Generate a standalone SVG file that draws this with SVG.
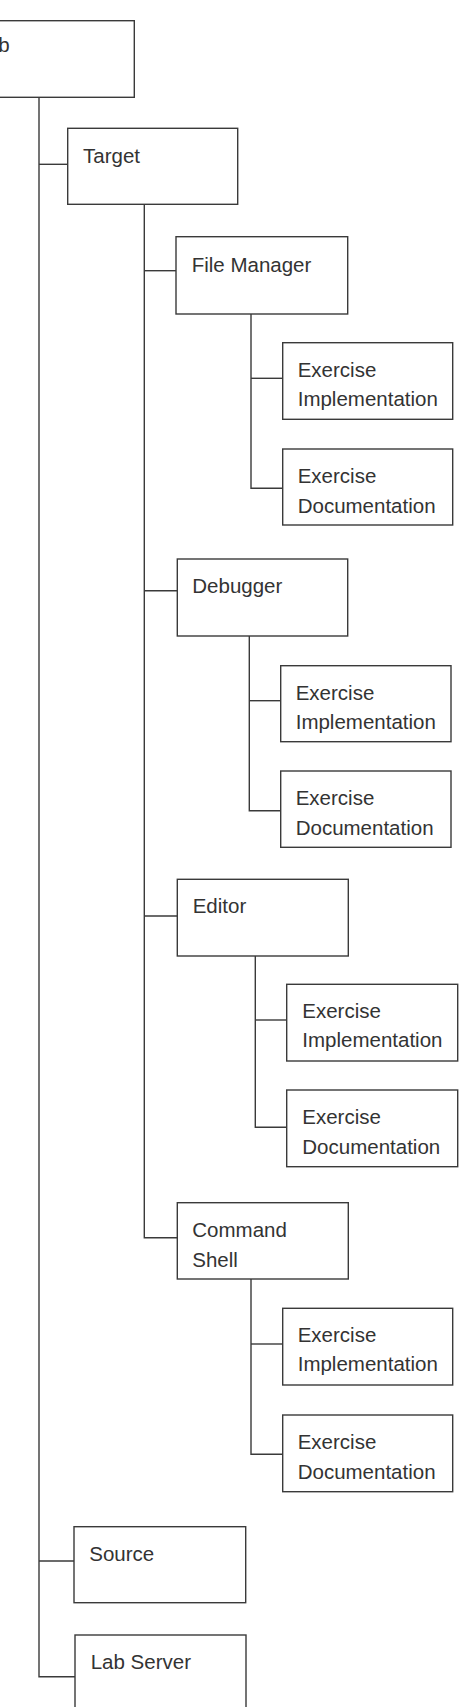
<svg xmlns="http://www.w3.org/2000/svg" width="465" height="1707" viewBox="0 0 465 1707">
<style>
.box{fill:#fff;stroke:#3a3a3a;stroke-width:1.4}
.t{font-family:"Liberation Sans",Arial,sans-serif;font-size:20.5px;fill:#333}
.c{fill:none;stroke:#3a3a3a;stroke-width:1.4}
</style>
<rect width="465" height="1707" fill="#fff"/>
<g id="connectors">
<path class="c" d="M39 97.3V1676.7H75"/>
<path class="c" d="M39 164.3H67.7"/>
<path class="c" d="M39 1561H74"/>
<path class="c" d="M144.3 204.3V1237.7H177.3"/>
<path class="c" d="M144.3 270.7H176"/>
<path class="c" d="M144.3 590.7H177.3"/>
<path class="c" d="M144.3 916H177.3"/>
<path class="c" d="M251 314V488.3H282.7"/>
<path class="c" d="M251 378.3H282.7"/>
<path class="c" d="M249.3 636V810.7H280.7"/>
<path class="c" d="M249.3 700.7H280.7"/>
<path class="c" d="M255.3 956V1127.3H286.7"/>
<path class="c" d="M255.3 1020H286.7"/>
<path class="c" d="M251 1279V1454.3H282.7"/>
<path class="c" d="M251 1344H282.7"/>
</g>
<g id="lab"><rect class="box" x="-36" y="20.7" width="170.3" height="76.6"/><text class="t" x="-24.5" y="51.7">Lab</text></g>
<g id="target"><rect class="box" x="67.7" y="128.3" width="170" height="76"/><text class="t" x="83" y="163.3">Target</text></g>
<g id="filemanager"><rect class="box" x="176" y="236.7" width="171.7" height="77.3"/><text class="t" x="191.7" y="271.7">File Manager</text></g>
<g id="fm-impl"><rect class="box" x="282.7" y="342.7" width="170" height="76.6"/><text class="t" x="297.7" y="376.7">Exercise</text><text class="t" x="297.7" y="405.7">Implementation</text></g>
<g id="fm-doc"><rect class="box" x="282.7" y="449" width="170" height="76"/><text class="t" x="297.7" y="483.3">Exercise</text><text class="t" x="297.7" y="512.7">Documentation</text></g>
<g id="debugger"><rect class="box" x="177.3" y="559" width="170.4" height="77"/><text class="t" x="192.3" y="593.3">Debugger</text></g>
<g id="db-impl"><rect class="box" x="280.7" y="665.7" width="170.3" height="76"/><text class="t" x="295.7" y="699.7">Exercise</text><text class="t" x="295.7" y="728.7">Implementation</text></g>
<g id="db-doc"><rect class="box" x="280.7" y="771" width="170.3" height="76.3"/><text class="t" x="295.7" y="805.3">Exercise</text><text class="t" x="295.7" y="834.7">Documentation</text></g>
<g id="editor"><rect class="box" x="177.3" y="879.3" width="171" height="76.7"/><text class="t" x="192.7" y="913.3">Editor</text></g>
<g id="ed-impl"><rect class="box" x="286.7" y="984.3" width="171" height="76.7"/><text class="t" x="302.3" y="1018.3">Exercise</text><text class="t" x="302.3" y="1047.3">Implementation</text></g>
<g id="ed-doc"><rect class="box" x="286.7" y="1090" width="171" height="76.7"/><text class="t" x="302.3" y="1124.3">Exercise</text><text class="t" x="302.3" y="1153.7">Documentation</text></g>
<g id="commandshell"><rect class="box" x="177.3" y="1202.7" width="171" height="76.3"/><text class="t" x="192.3" y="1237.3">Command</text><text class="t" x="192.3" y="1267.3">Shell</text></g>
<g id="cs-impl"><rect class="box" x="282.7" y="1308.3" width="170" height="76.7"/><text class="t" x="297.7" y="1342.3">Exercise</text><text class="t" x="297.7" y="1371.3">Implementation</text></g>
<g id="cs-doc"><rect class="box" x="282.7" y="1415" width="170" height="76.7"/><text class="t" x="297.7" y="1449.3">Exercise</text><text class="t" x="297.7" y="1478.7">Documentation</text></g>
<g id="source"><rect class="box" x="74" y="1526.7" width="171.7" height="76"/><text class="t" x="89.3" y="1561">Source</text></g>
<g id="labserver"><rect class="box" x="75" y="1635" width="171" height="100"/><text class="t" x="90.7" y="1669.3">Lab Server</text></g>
</svg>
